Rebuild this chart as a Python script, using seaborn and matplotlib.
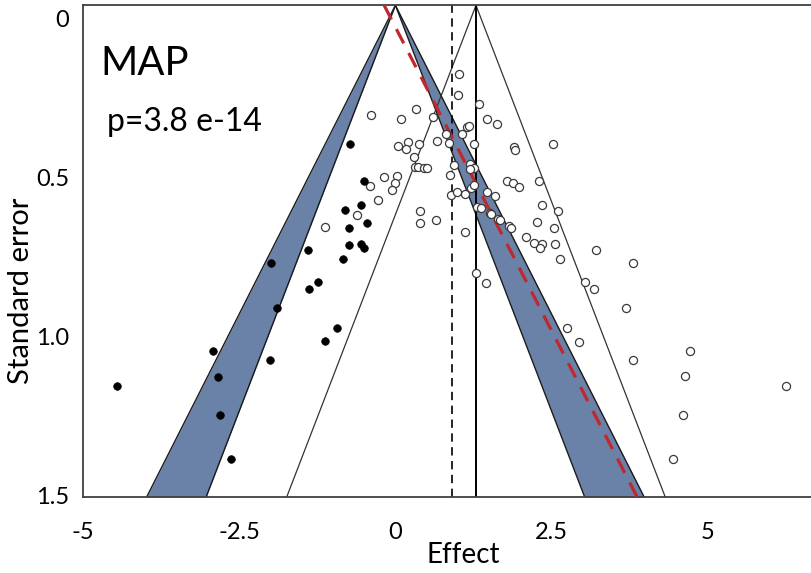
import numpy as np
import pandas as pd
import matplotlib
matplotlib.use("Agg")
import matplotlib.pyplot as plt
import matplotlib.transforms as mtransforms
import seaborn as sns

# Observed studies (effect, standard error)
open_effect = [-0.392, 0.088, 0.328, 0.600, 1.016, 0.996, 1.336, 1.469, 1.633, 1.140,
               1.180, 1.064, 0.808, 0.861, 0.669, 0.384, 0.205, 0.048, 0.168, 1.264,
               1.897, 1.908, 2.521, 0.299, 0.312, 0.368, 0.461, 0.499, 0.941, 1.200,
               1.261, 1.200, -0.184, 0.032, -0.008, -0.056, -0.408, -0.272, -0.611, -1.128,
               0.867, 0.896, 0.980, 1.112, 1.204, 1.261, 1.472, 1.596, 1.785, 1.877,
               1.980, 2.297, 1.301, 1.365, 1.520, 1.536, 1.645, 1.669, 0.395, 0.395,
               0.648, 1.112, 1.821, 1.857, 2.260, 2.342, 2.601, 2.545, 2.089, 2.220,
               2.348, 2.308, 2.548, 2.638, 3.209, 3.801, 1.288, 1.444, 3.038, 3.177,
               3.700, 2.740, 2.937, 4.714, 3.806, 4.633, 6.261, 4.606, 4.437]
open_se = [0.345, 0.358, 0.326, 0.350, 0.216, 0.281, 0.309, 0.358, 0.373, 0.383,
           0.379, 0.405, 0.405, 0.433, 0.427, 0.436, 0.430, 0.441, 0.453, 0.437,
           0.446, 0.456, 0.437, 0.478, 0.507, 0.508, 0.513, 0.513, 0.502, 0.499,
           0.511, 0.514, 0.539, 0.537, 0.560, 0.581, 0.567, 0.612, 0.659, 0.697,
           0.534, 0.596, 0.586, 0.593, 0.575, 0.565, 0.586, 0.600, 0.551, 0.560,
           0.571, 0.553, 0.633, 0.638, 0.652, 0.657, 0.673, 0.675, 0.646, 0.685,
           0.675, 0.712, 0.693, 0.699, 0.682, 0.629, 0.646, 0.700, 0.730, 0.748,
           0.749, 0.763, 0.752, 0.798, 0.770, 0.810, 0.842, 0.874, 0.869, 0.892,
           0.952, 1.015, 1.058, 1.086, 1.114, 1.167, 1.196, 1.289, 1.428]

# Imputed studies (trim and fill)
filled_effect = [-0.728, -0.499, -0.808, -0.547, -0.461, -0.749, -0.749, -0.547, -0.509,
                 -0.835, -1.405, -1.997, -1.236, -1.380, -1.901, -0.941, -1.133, -2.916,
                 -2.009, -2.836, -4.465, -2.809, -2.638]
filled_se = [0.437, 0.553, 0.645, 0.629, 0.684, 0.700, 0.754, 0.750, 0.763,
             0.799, 0.770, 0.810, 0.870, 0.892, 0.952, 1.015, 1.057, 1.087,
             1.115, 1.168, 1.197, 1.288, 1.428]

pooled_effect = 1.29      # observed summary estimate
adjusted_effect = 0.90    # trim-and-fill adjusted estimate
egger_intercept = -0.18
egger_slope = 2.62

x_ticks = [-5, -2.5, 0, 2.5, 5]
x_tick_labels = ["-5", "-2.5", "0", "2.5", "5"]
y_ticks = [0, 0.5, 1.0, 1.5]
y_tick_labels = ["0", "0.5", "1.0", "1.5"]

sns.set_theme(style="white")
plt.rcParams["font.family"] = ["Lato", "DejaVu Sans"]
plt.rcParams["axes.unicode_minus"] = False

fig = plt.figure(figsize=(8.12, 5.73), dpi=100)
ax = fig.add_axes([83.1 / 812, (573 - 497) / 573, 1 - 83.1 / 812, (497 - 5.3) / 573])

se_max = 1.546
se = np.array([0.0, se_max])

# Contour-enhanced funnel: shaded bands between 95% and 99% limits around zero
band_color = "#6a82a8"
ax.fill_betweenx(se, -2.576 * se, -1.96 * se, color=band_color, lw=0, zorder=1)
ax.fill_betweenx(se, 1.96 * se, 2.576 * se, color=band_color, lw=0, zorder=1)
for k in (-2.576, -1.96, 1.96, 2.576):
    ax.plot(k * se, se, color="#1a1a1a", lw=1.0, zorder=2)

# 95% funnel around the pooled estimate
for k in (-1.96, 1.96):
    ax.plot(pooled_effect + k * se, se, color="#333333", lw=0.9, zorder=2)
ax.axvline(pooled_effect, color="black", lw=1.4, zorder=2)
ax.axvline(adjusted_effect, color="black", lw=1.2, ls=(0, (5, 3.3)), zorder=2)

# Egger regression line
egger = pd.DataFrame({"se": se, "effect": egger_intercept + egger_slope * se})
ax.plot(egger["effect"], egger["se"], color="#c0282d", lw=2.3,
        ls=(0, (5, 3.4)), zorder=3)

obs = pd.DataFrame({"effect": open_effect, "se": open_se})
imp = pd.DataFrame({"effect": filled_effect, "se": filled_se})
sns.scatterplot(data=obs, x="effect", y="se", ax=ax, marker="o", s=34,
                facecolor="white", edgecolor="#3a3a3a", linewidth=0.9, zorder=4)
sns.scatterplot(data=imp, x="effect", y="se", ax=ax, marker="o", s=30,
                color="black", edgecolor="black", linewidth=0.5, zorder=4)

ax.set_xlim(-5, 6.67)
ax.set_ylim(se_max, 0)

ax.set_xticks(x_ticks)
ax.set_xticklabels(x_tick_labels)
ax.set_yticks(y_ticks)
ax.set_yticklabels(y_tick_labels)
ax.tick_params(axis="both", which="major", direction="out", length=4, width=1,
               color="#404040", labelsize=17, labelcolor="black")
ax.tick_params(axis="x", pad=14)
ax.tick_params(axis="y", pad=6)

# Shift y tick labels slightly below their ticks
offset = mtransforms.ScaledTranslation(0, -13 / 100, fig.dpi_scale_trans)
for lab in ax.get_yticklabels():
    lab.set_transform(lab.get_transform() + offset)

for side in ("left", "top", "bottom"):
    ax.spines[side].set_visible(True)
    ax.spines[side].set_color("#404040")
    ax.spines[side].set_linewidth(1.3)
ax.spines["right"].set_visible(False)

ax.set_xlabel("Effect", fontsize=20, color="black")
ax.xaxis.set_label_coords(0.521, -0.092)
ax.set_ylabel("Standard error", fontsize=21, color="black")
ax.yaxis.set_label_coords(-0.068, 0.419)

ax.text(-4.73, 0.219, "MAP", fontsize=29, ha="left", va="baseline", color="black")
ax.text(-4.62, 0.395, "p=3.8 e-14", fontsize=23, ha="left", va="baseline", color="black")

fig.savefig("out.png", dpi=100)
